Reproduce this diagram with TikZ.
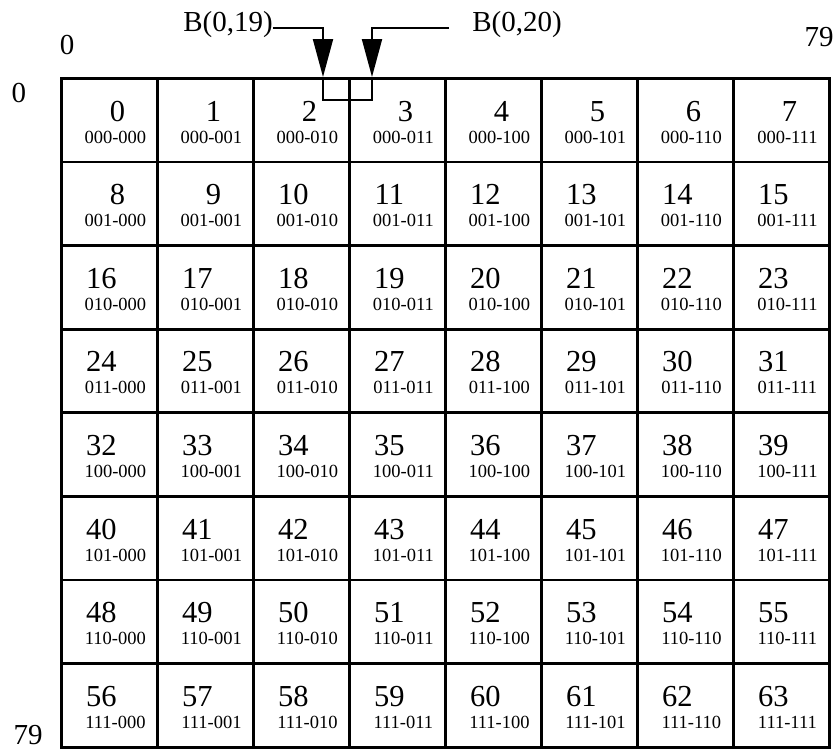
\documentclass[tikz,border=0pt]{standalone}
\usepackage{fontspec}
\setmainfont{Liberation Serif}
\usetikzlibrary{arrows.meta,calc}
\begin{document}
\begin{tikzpicture}[x=1pt,y=-1pt,
  cell/.style={draw,line width=2.8pt,minimum width=96pt,minimum height=83.6pt,inner sep=0pt,anchor=north west},
  big/.style={font=\fontsize{30.5}{35}\selectfont,inner sep=0pt,anchor=base},
  small/.style={font=\fontsize{18.5}{22}\selectfont,inner sep=0pt,anchor=base},
  axis/.style={font=\fontsize{29}{34}\selectfont,inner sep=0pt},
  feed/.style={line width=2pt,-{Triangle[length=38pt,width=20pt]}},
  link/.style={line width=2pt}]
\useasboundingbox (0,0) rectangle (837,750);
\foreach \r/\rb in {0/000,1/001,2/010,3/011,4/100,5/101,6/110,7/111}{
  \foreach \c/\cb in {0/000,1/001,2/010,3/011,4/100,5/101,6/110,7/111}{
    \pgfmathtruncatemacro\n{8*\r+\c}
    \pgfmathsetmacro\dx{\n<10 ? 8 : -8}
    \pgfmathsetmacro\cx{60+96*\c}
    \pgfmathsetmacro\cy{77+83.6*\r}
    \node[cell] (c\n) at (\cx,\cy) {};
    \node[big] (n\n) at ($(c\n.north)+(\dx,44)$) {\n};
    \node[small] (b\n) at ($(c\n.north)+(6,66)$) {\rb-\cb};
  }
}
\node[axis] (x0) at (67,45) {0};
\node[axis] (x79) at (819,37) {79};
\node[axis] (y0) at (19,93) {0};
\node[axis] (y79) at (28,735) {79};
\node[axis,anchor=base] (l19) at (228,31) {B(0,19)};
\node[axis,anchor=base] (l20) at (517,31) {B(0,20)};
\coordinate (p19) at (323,77);
\coordinate (p20) at (372,77);
\coordinate (q19) at ($(l19.base east)+(0,-3)$);
\coordinate (q20) at ($(l20.base west)+(-23,-3)$);
\draw[feed] (q19) -| (p19);
\draw[feed] (q20) -| (p20);
\draw[link] (p19) -- ++(0,23) -| (p20);
\end{tikzpicture}
\end{document}
